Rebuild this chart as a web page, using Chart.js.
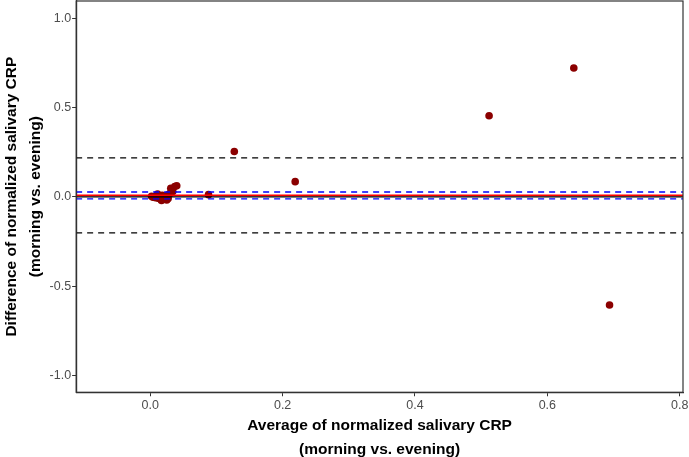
<!DOCTYPE html>
<html lang="en">
<head>
    <meta charset="UTF-8">
    <title>Bland-Altman salivary CRP</title>
    <script src="https://cdn.jsdelivr.net/npm/chart.js"></script>
    <style>
        html, body { margin: 0; padding: 0; background: #fff; overflow: hidden; }
        /* canvas is 3px taller and shifted up so the panel starts near the top edge */
        #wrap { position: absolute; left: 0; top: -3px; width: 689px; height: 460px; }
    </style>
</head>
<body>
<div id="wrap"><canvas id="baChart"></canvas></div>
<script>
// average (x) and difference (y) of normalized salivary CRP
const avgVals = [0.002, 0.004, 0.006, 0.008, 0.010, 0.011, 0.012, 0.014, 0.015, 0.017, 0.018,
                 0.019, 0.021, 0.023, 0.025, 0.027, 0.028, 0.030, 0.031, 0.034, 0.037, 0.040,
                 0.088, 0.127, 0.219, 0.512, 0.640, 0.694];
const diffVals = [0.003, -0.002, 0.000, -0.005, 0.002, 0.015, -0.008, 0.004, -0.012, -0.020, 0.008,
                  -0.015, -0.003, 0.006, -0.018, -0.010, 0.012, 0.020, 0.048, 0.030, 0.058, 0.062,
                  0.012, 0.254, 0.085, 0.454, 0.722, -0.606];

// reference lines
const meanDiff = 0.008;
const limitsOfAgreement = [0.218, -0.202];
const meanCI = [0.027, -0.011];
const zeroLine = 0;

const xTicks = [0.0, 0.2, 0.4, 0.6, 0.8];
const yTicks = [-1.0, -0.5, 0.0, 0.5, 1.0];
const xRange = [-0.112, 0.805];
const yRange = [-1.095, 1.097];

function hline(v, color, width, dash) {
    return {
        type: 'line',
        data: [{x: xRange[0], y: v}, {x: xRange[1], y: v}],
        borderColor: color,
        borderWidth: width,
        borderDash: dash,
        pointRadius: 0,
        fill: false
    };
}

const panelBorder = {
    id: 'panelBorder',
    afterDatasetsDraw(chart) {
        const a = chart.chartArea, ctx = chart.ctx;
        ctx.save();
        ctx.strokeStyle = '#333333';
        ctx.lineWidth = 1.2;
        ctx.strokeRect(a.left, a.top, a.right - a.left, a.bottom - a.top);
        ctx.restore();
    }
};

const fam = 'Liberation Sans, Arial, sans-serif';
const yTickFont = {family: fam, size: 12.5};
// tiny line height: labels are drawn centred, this just tightens the gap to the title
const xTickFont = {family: fam, size: 12.5, lineHeight: 0.13};
const titleFont = {family: fam, size: 15.5, weight: 'bold', lineHeight: 1.6};

new Chart(document.getElementById('baChart'), {
    data: {
        datasets: [
            hline(zeroLine, '#000000', 1.2, []),
            hline(limitsOfAgreement[0], '#000000', 1.3, [6, 5]),
            hline(limitsOfAgreement[1], '#000000', 1.3, [6, 5]),
            hline(meanCI[0], '#0000FF', 1.3, [6, 5]),
            hline(meanCI[1], '#0000FF', 1.3, [6, 5]),
            hline(meanDiff, '#FF0000', 1.6, []),
            {
                type: 'scatter',
                data: avgVals.map((x, i) => ({x: x, y: diffVals[i]})),
                backgroundColor: '#8B0000',
                borderColor: '#8B0000',
                pointRadius: 3.8,
                borderWidth: 0
            }
        ]
    },
    options: {
        responsive: true,
        maintainAspectRatio: false,
        animation: false,
        layout: {padding: {top: 0, right: 6, left: -1, bottom: -5.5}},
        plugins: {legend: {display: false}, tooltip: {enabled: false}},
        scales: {
            x: {
                type: 'linear',
                min: xRange[0],
                max: xRange[1],
                afterBuildTicks: s => { s.ticks = xTicks.map(v => ({value: v})); },
                afterFit: s => { s.paddingRight = 0; },
                ticks: {
                    color: '#4D4D4D',
                    font: xTickFont,
                    padding: 8.6,
                    maxRotation: 0,
                    callback: v => v.toFixed(1)
                },
                grid: {drawOnChartArea: false, color: '#333333', tickLength: 4},
                border: {color: '#333333', width: 1.2},
                title: {
                    display: true,
                    text: ['Average of normalized salivary CRP', '(morning vs. evening)'],
                    color: '#000000',
                    font: titleFont,
                    padding: {top: -2.2, bottom: 0}
                }
            },
            y: {
                type: 'linear',
                min: yRange[0],
                max: yRange[1],
                afterBuildTicks: s => { s.ticks = yTicks.map(v => ({value: v})); },
                afterFit: s => { s.paddingTop = 0; s.paddingBottom = 0; },
                ticks: {
                    color: '#4D4D4D',
                    font: yTickFont,
                    padding: 1,
                    callback: v => v.toFixed(1)
                },
                grid: {drawOnChartArea: false, color: '#333333', tickLength: 4},
                border: {color: '#333333', width: 1.2},
                title: {
                    display: true,
                    text: ['Difference of normalized salivary CRP', '(morning vs. evening)'],
                    color: '#000000',
                    font: titleFont,
                    padding: {top: 0, bottom: 0}
                }
            }
        }
    },
    plugins: [panelBorder]
});
</script>
</body>
</html>
